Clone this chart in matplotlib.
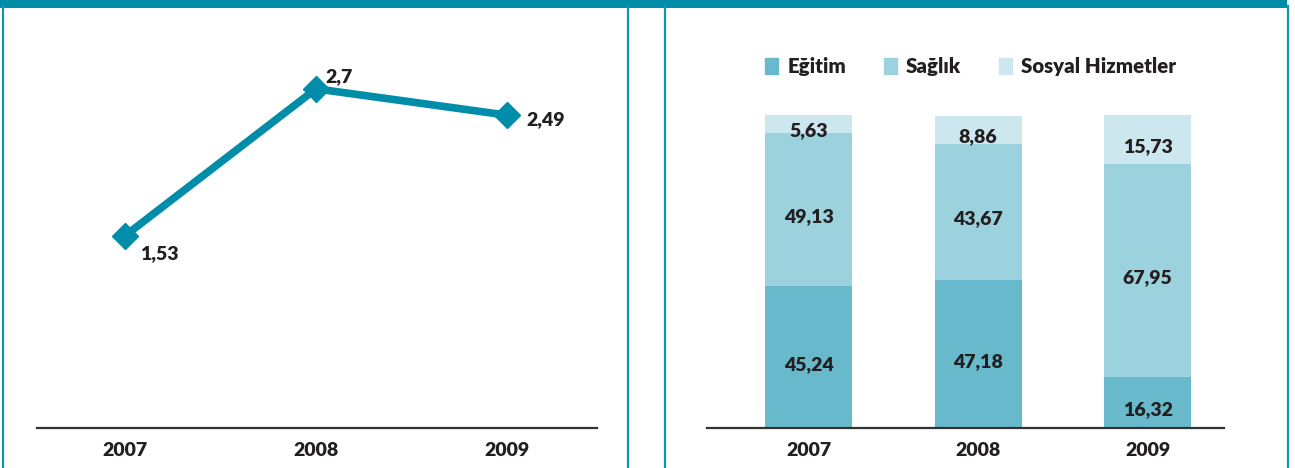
import matplotlib.pyplot as plt
from matplotlib.patches import Rectangle, Patch
from matplotlib.lines import Line2D

plt.rcParams['font.family'] = ['Lato', 'DejaVu Sans']
plt.rcParams['font.weight'] = 'bold'

years = ["2007", "2008", "2009"]
line_values = [1.53, 2.7, 2.49]
line_labels = ["1,53", "2,7", "2,49"]

categories = ["Eğitim", "Sağlık", "Sosyal Hizmetler"]
egitim = [45.24, 47.18, 16.32]
saglik = [49.13, 43.67, 67.95]
sosyal = [5.63, 8.86, 15.73]

teal = "#008da9"
bar_colors = ["#67b9cb", "#9cd2dd", "#cde7ee"]
txt = "#231f20"

W, H = 1295, 468
fig = plt.figure(figsize=(W / 100, H / 100), dpi=100)

def fx(px):
    return px / W

def fy(py):
    return 1 - py / H

# frame decoration
fig.add_artist(Rectangle((0, fy(8)), fx(1287), 8 / H, transform=fig.transFigure,
                         color=teal, lw=0))
for x in [3, 628, 665, 1288]:
    fig.add_artist(Line2D([fx(x), fx(x)], [0, fy(6)], transform=fig.transFigure,
                          color="#0e96ae", lw=1.6))

# left: line chart
ax1 = fig.add_axes([fx(37), fy(428), fx(597) - fx(37), 402 / H])
xs = range(len(years))
ax1.plot(xs, line_values, color=teal, lw=5.5, marker="D", ms=13, solid_joinstyle="miter")
ax1.set_xlim(-0.46, 2.47)
ax1.set_ylim(0, 3.2)
offsets = [(11, -13), (7, 9), (14, -3)]
for x, v, lab, off in zip(xs, line_values, line_labels, offsets):
    ax1.annotate(lab, (x, v), xytext=off, textcoords="offset points",
                 ha="left", va="center", fontsize=14, color=txt, fontweight="heavy")

# right: stacked bars
ax2 = fig.add_axes([fx(707), fy(428), fx(1224) - fx(707), 313 / H])
bottom = [0, 0, 0]
for vals, col, name in zip([egitim, saglik, sosyal], bar_colors, categories):
    ax2.bar(xs, vals, bottom=bottom, width=0.513, color=col, label=name)
    for x, v, b in zip(xs, vals, bottom):
        ax2.annotate(f"{v:.2f}".replace(".", ","), (x, b + v / 2), xytext=(0, -5),
                     textcoords="offset points", ha="center", va="center",
                     fontsize=14, color=txt, fontweight="heavy")
    bottom = [b + v for b, v in zip(bottom, vals)]
ax2.set_xlim(-0.599, 2.451)
ax2.set_ylim(0, 100)

handles = [Patch(color=c) for c in bar_colors]
leg = ax2.legend(handles, categories, loc="lower left", bbox_to_anchor=(0.112, 1.125),
                 ncol=3, frameon=False, fontsize=14.7, handlelength=0.64, handleheight=0.82,
                 handletextpad=0.45, columnspacing=1.85, borderaxespad=0, borderpad=0)
for t in leg.get_texts():
    t.set_color(txt)
    t.set_fontweight("heavy")

for ax in (ax1, ax2):
    for s in ["top", "right", "left"]:
        ax.spines[s].set_visible(False)
    ax.spines["bottom"].set_color("#333333")
    ax.spines["bottom"].set_linewidth(1.6)
    ax.set_yticks([])
    ax.set_xticks(list(xs))
    ax.set_xticklabels(years, fontsize=14, color=txt, fontweight="heavy")
    ax.tick_params(axis="x", length=0, pad=10)
    ax.patch.set_alpha(0)

fig.savefig("out.png", dpi=100)
